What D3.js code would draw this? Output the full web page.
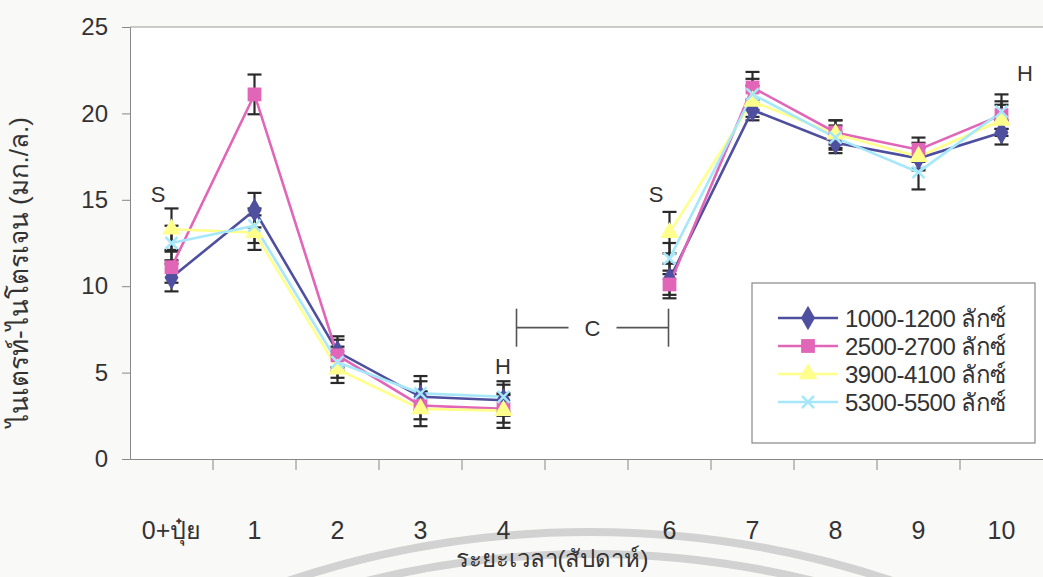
<!DOCTYPE html>
<html><head><meta charset="utf-8">
<script src="https://cdn.jsdelivr.net/npm/d3@7"></script>
<style>
html,body{margin:0;padding:0;background:#f9f9f7;}
text{font-family:"Liberation Sans",Arial,sans-serif;fill:#333;}
</style></head>
<body><svg id="c" width="1043" height="577"></svg>
<script>
const weeks = ["0","1","2","3","4","5","6","7","8","9","10"];
const tickLabels = ["0+ปุ๋ย","1","2","3","4","","6","7","8","9","10"];
const seriesNames = ["1000-1200 ลักซ์","2500-2700 ลักซ์","3900-4100 ลักซ์","5300-5500 ลักซ์"];
const s1 = [10.5, 14.4, 6.2, 3.6, 3.4, null, 10.4, 20.2, 18.3, 17.4, 18.9];
const s2 = [11.1, 21.1, 6.0, 3.1, 2.9, null, 10.1, 21.5, 18.9, 17.9, 19.9];
const s3 = [13.3, 13.1, 5.2, 2.9, 2.8, null, 13.1, 20.7, 18.8, 17.5, 19.6];
const s4 = [12.5, 13.5, 5.6, 3.8, 3.6, null, 11.6, 21.1, 18.6, 16.6, 20.1];
const e1 = [0.8, 1.0, 0.9, 0.9, 0.9, null, 0.9, 0.6, 0.6, 0.6, 0.7];
const e2 = [0.9, 1.15, 0.9, 0.8, 0.8, null, 0.8, 0.9, 0.7, 0.7, 0.8];
const e3 = [1.2, 1.0, 0.8, 1.0, 1.0, null, 1.2, 0.9, 0.8, 0.8, 0.9];
const e4 = [1.0, 1.0, 0.9, 1.0, 0.9, null, 0.9, 0.9, 0.7, 1.0, 1.0];
const colors = ["#4f4f9f","#e166b8","#ffff8c","#a6e8fa"];
const yTicks = [0,5,10,15,20,25];

const svg = d3.select("#c");
const x = d3.scaleBand().domain(weeks).range([130, 1043]).padding(0);
const y = d3.scaleLinear().domain([0,25]).range([459, 27]);

// watermark arcs
const wm = svg.append("g").attr("fill","none").attr("stroke","#d2d2d2").attr("stroke-width",8);
wm.append("circle").attr("cx",590).attr("cy",1489).attr("r",957);
wm.append("circle").attr("cx",590).attr("cy",1489).attr("r",935);

// plot area
svg.append("rect").attr("x",130).attr("y",27).attr("width",913).attr("height",432).attr("fill","#fff");
svg.append("line").attr("x1",130).attr("x2",1043).attr("y1",y(25)).attr("y2",y(25)).attr("stroke","#999").attr("stroke-width",1);

// y axis
const yAxis = d3.axisLeft(y).tickValues(yTicks).tickSize(8).tickPadding(14);
const gy = svg.append("g").attr("transform","translate(130,0)").call(yAxis);
gy.select(".domain").attr("stroke","#888");
gy.selectAll(".tick line").attr("stroke","#888");
gy.selectAll(".tick text").attr("font-size",24).attr("fill","#333").style("font-family",'"Liberation Sans",Arial,sans-serif');

// x axis
const xAxis = d3.axisBottom(x).tickSize(0).tickPadding(62).tickFormat((d,i)=>tickLabels[i]);
const gx = svg.append("g").attr("transform","translate(0,459)").call(xAxis);
gx.select(".domain").attr("stroke","#888");
gx.selectAll(".tick text").attr("font-size",25).attr("fill","#333").style("font-family",'"Liberation Sans",Arial,sans-serif');
gx.selectAll(".bound").data(weeks.slice(1)).enter().append("line")
  .attr("x1",d=>x(d)).attr("x2",d=>x(d)).attr("y1",0).attr("y2",11).attr("stroke","#888");

// axis titles
svg.append("text").attr("x",552).attr("y",567).attr("text-anchor","middle").attr("font-size",24).text("ระยะเวลา(สัปดาห์)");
svg.append("text").attr("transform","translate(28,272) rotate(-90)").attr("text-anchor","middle").attr("font-size",26).text("ไนเตรท์-ไนโตรเจน (มก./ล.)");

const series = [s1,s2,s3,s4];
const errs = [e1,e2,e3,e4];
const cx = d => x(d) + x.bandwidth()/2;

// error bars
series.forEach((s,k)=>{
  const g = svg.append("g").attr("stroke","#2a2a2a").attr("stroke-width",2.2);
  weeks.forEach((w,i)=>{
    if(s[i]==null) return;
    const hi = y(s[i]+errs[k][i]), lo = y(s[i]-errs[k][i]), xc = cx(w);
    g.append("line").attr("x1",xc).attr("x2",xc).attr("y1",hi).attr("y2",lo);
    g.append("line").attr("x1",xc-7).attr("x2",xc+7).attr("y1",hi).attr("y2",hi);
    g.append("line").attr("x1",xc-7).attr("x2",xc+7).attr("y1",lo).attr("y2",lo);
  });
});

// lines
const line = d3.line().defined(d=>d.v!=null).x(d=>cx(d.w)).y(d=>y(d.v));
series.forEach((s,k)=>{
  svg.append("path").datum(weeks.map((w,i)=>({w, v:s[i]})))
    .attr("d",line).attr("fill","none").attr("stroke",colors[k]).attr("stroke-width",2.6);
});

// markers
const symTypes = [d3.symbolDiamond, d3.symbolSquare, d3.symbolTriangle, null];
function marker(g, k, xc, yc){
  if(k===3){
    const r=6;
    g.append("path").attr("d",`M${xc-r},${yc-r}L${xc+r},${yc+r}M${xc-r},${yc+r}L${xc+r},${yc-r}`)
      .attr("stroke",colors[k]).attr("stroke-width",2.5).attr("fill","none");
  } else {
    const size = k===0?170:(k===1?190:150);
    g.append("path").attr("d",d3.symbol().type(symTypes[k]).size(size)())
      .attr("transform",`translate(${xc},${yc})`).attr("fill",colors[k]);
  }
}
series.forEach((s,k)=>{
  const g = svg.append("g");
  weeks.forEach((w,i)=>{ if(s[i]!=null) marker(g,k,cx(w),y(s[i])); });
});

// annotations
const ann = svg.append("g").attr("font-size",22);
ann.append("text").attr("x",158).attr("y",y(14.85)).attr("text-anchor","middle").text("S");
ann.append("text").attr("x",503).attr("y",y(4.9)).attr("text-anchor","middle").text("H");
ann.append("text").attr("x",656).attr("y",y(14.85)).attr("text-anchor","middle").text("S");
ann.append("text").attr("x",1025).attr("y",y(21.9)).attr("text-anchor","middle").text("H");
// C bracket
const br = svg.append("g").attr("stroke","#555").attr("stroke-width",1.6);
const x0 = x("4")+x.bandwidth()/2+13, x1 = x("6")+x.bandwidth()/2-1, ym = y(7.6);
br.append("line").attr("x1",x0).attr("x2",x0).attr("y1",y(8.7)).attr("y2",y(6.5));
br.append("line").attr("x1",x1).attr("x2",x1).attr("y1",y(8.7)).attr("y2",y(6.5));
br.append("line").attr("x1",x0).attr("x2",(x0+x1)/2-24).attr("y1",ym).attr("y2",ym);
br.append("line").attr("x1",(x0+x1)/2+24).attr("x2",x1).attr("y1",ym).attr("y2",ym);
ann.append("text").attr("x",(x0+x1)/2).attr("y",ym+8).attr("text-anchor","middle").text("C");

// legend
const lg = svg.append("g");
lg.append("rect").attr("x",752).attr("y",283).attr("width",283).attr("height",160).attr("fill","#fff").attr("stroke","#888").attr("stroke-width",1.2);
seriesNames.forEach((n,k)=>{
  const yy = 318 + k*28;
  lg.append("line").attr("x1",778).attr("x2",838).attr("y1",yy).attr("y2",yy).attr("stroke",colors[k]).attr("stroke-width",2.6);
  marker(lg,k,808,yy);
  lg.append("text").attr("x",845).attr("y",yy+9).attr("font-size",24).attr("letter-spacing",-0.5).text(n);
});
</script></body></html>
